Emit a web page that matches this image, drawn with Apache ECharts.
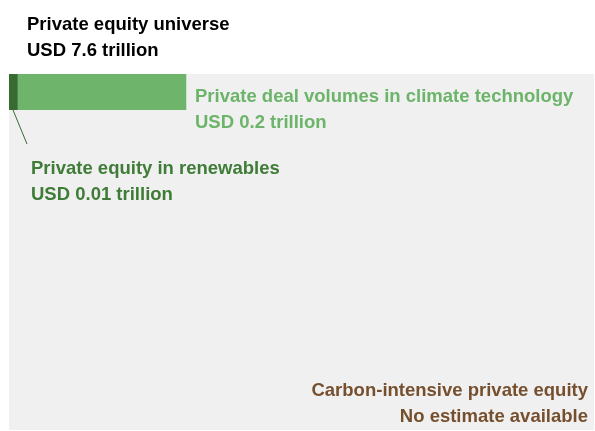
<!DOCTYPE html>
<html>
<head>
<meta charset="utf-8">
<script src="https://cdn.jsdelivr.net/npm/echarts@6/dist/echarts.min.js"></script>
<style>
  html, body { margin: 0; padding: 0; background: #fff; }
  #box { width: 595px; height: 431px; }
</style>
</head>
<body>
<div id="box"></div>
<script>
// values in USD trillion
var names = ['Private equity universe', 'Private deal volumes in climate technology', 'Private equity in renewables'];
var values = [7.6, 0.2, 0.01];
var valueLabels = ['USD 7.6 trillion', 'USD 0.2 trillion', 'USD 0.01 trillion'];
var carbonLabel = ['Carbon-intensive private equity', 'No estimate available'];

var universe = values[0], climate = values[1], renew = values[2];

var font = '"Liberation Sans", Arial, sans-serif';
function txt(x, y, lines, color, align) {
    return {
        type: 'text', x: x, y: y, z: 100,
        style: {
            text: lines.join('\n'), fill: color, font: 'bold 18.5px ' + font,
            lineHeight: 26, align: align || 'left', verticalAlign: 'top'
        }
    };
}

var chart = echarts.init(document.getElementById('box'));
var option = {
    animation: false,
    backgroundColor: '#ffffff',
    grid: [
        { left: 9, top: 74, width: 585, height: 356 },
        { left: 9, top: 74, width: 585, height: 36 }
    ],
    xAxis: [
        { gridIndex: 0, type: 'value', min: 0, max: universe, show: false },
        { gridIndex: 1, type: 'value', min: 0, max: 0.66, show: false }
    ],
    yAxis: [
        { gridIndex: 0, type: 'category', data: ['universe'], show: false },
        { gridIndex: 1, type: 'category', data: ['strip'], show: false }
    ],
    series: [
        {
            name: names[0], type: 'bar', xAxisIndex: 0, yAxisIndex: 0,
            barWidth: '100%', data: [universe], itemStyle: { color: '#f0f0f0' }, silent: true
        },
        {
            name: names[2], type: 'bar', xAxisIndex: 1, yAxisIndex: 1, stack: 's',
            barWidth: '100%', data: [renew], itemStyle: { color: '#386b31' }
        },
        {
            name: names[1], type: 'bar', xAxisIndex: 1, yAxisIndex: 1, stack: 's',
            barWidth: '100%', data: [climate - renew], itemStyle: { color: '#6fb46b' }
        }
    ],
    graphic: [
        txt(27, 12, [names[0], valueLabels[0]], '#000000'),
        txt(195, 84, [names[1], valueLabels[1]], '#6cb46a'),
        txt(31, 156, [names[2], valueLabels[2]], '#3e7c37'),
        txt(588, 378, carbonLabel, '#76502e', 'right'),
        {
            type: 'line', z: 100, shape: { x1: 13, y1: 110, x2: 27, y2: 144 },
            style: { stroke: '#386b31', lineWidth: 1 }
        }
    ]
};
chart.setOption(option);
</script>
</body>
</html>
